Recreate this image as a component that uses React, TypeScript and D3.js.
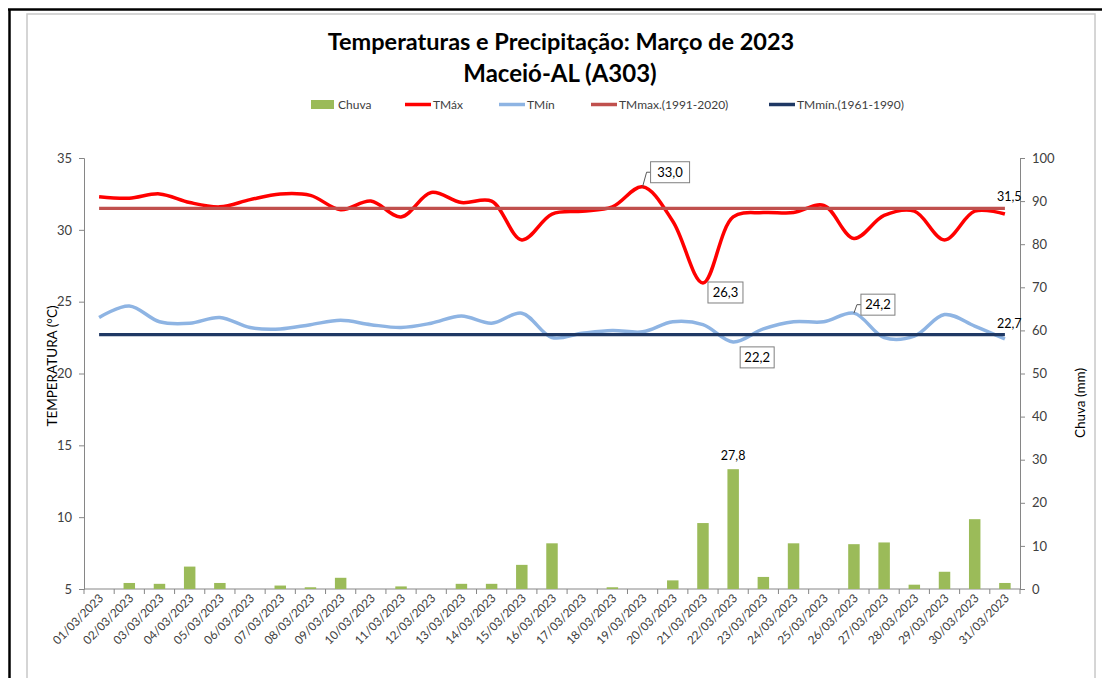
import { useEffect, useRef } from "react";
import * as d3 from "d3";

const dias = [
  "01/03/2023", "02/03/2023", "03/03/2023", "04/03/2023", "05/03/2023", "06/03/2023",
  "07/03/2023", "08/03/2023", "09/03/2023", "10/03/2023", "11/03/2023", "12/03/2023",
  "13/03/2023", "14/03/2023", "15/03/2023", "16/03/2023", "17/03/2023", "18/03/2023",
  "19/03/2023", "20/03/2023", "21/03/2023", "22/03/2023", "23/03/2023", "24/03/2023",
  "25/03/2023", "26/03/2023", "27/03/2023", "28/03/2023", "29/03/2023", "30/03/2023",
  "31/03/2023",
];

const chuva = [
  0, 1.4, 1.2, 5.2, 1.4, 0, 0.8, 0.4, 2.6, 0, 0.6, 0, 1.2, 1.2, 5.6, 10.6,
  0, 0.4, 0, 2.0, 15.3, 27.8, 2.8, 10.6, 0, 10.4, 10.8, 1.0, 4.0, 16.2, 1.4,
];

const tMax = [
  32.3, 32.2, 32.5, 31.9, 31.6, 32.1, 32.5, 32.4, 31.4, 32.0, 30.9, 32.6, 31.9, 32.0, 29.3, 31.1,
  31.3, 31.6, 33.0, 30.6, 26.3, 30.9, 31.2, 31.2, 31.7, 29.4, 31.0, 31.3, 29.3, 31.3, 31.1,
];

const tMin = [
  23.9, 24.7, 23.6, 23.5, 23.9, 23.2, 23.1, 23.4, 23.7, 23.4, 23.2, 23.5, 24.0, 23.5, 24.2, 22.5,
  22.8, 23.0, 22.9, 23.6, 23.4, 22.2, 23.1, 23.6, 23.6, 24.2, 22.5, 22.6, 24.1, 23.3, 22.4,
];

const normalMax = 31.5; // 1991-2020
const normalMin = 22.7; // 1961-1990

const ticksTemp = [5, 10, 15, 20, 25, 30, 35];
const ticksChuva = [0, 10, 20, 30, 40, 50, 60, 70, 80, 90, 100];

// rótulos com caixa: [índice do dia, série, dx, dy, largura da caixa]
const rotulos: [number, "max" | "min", number, number, number][] = [
  [18, "max", 8, -25, 39],
  [20, "max", 5, -1, 35],
  [21, "min", 7, 5, 34],
  [25, "min", 7, -19, 34],
];

const FONT = "Lato, 'Open Sans', sans-serif";
const fmt = (v: number) => v.toFixed(1).replace(".", ",");

export default function App() {
  const ref = useRef<SVGSVGElement>(null);

  useEffect(() => {
    if (!ref.current) return;
    const svg = d3.select(ref.current);
    svg.selectAll("*").remove();

    const W = 1102, H = 678;
    const plot = { left: 84, right: 1020, top: 158, bottom: 589 };

    // molduras
    svg.append("rect").attr("width", W).attr("height", H).attr("fill", "#fff");
    svg.append("rect")
      .attr("x", 27).attr("y", 14).attr("width", 1068).attr("height", 700)
      .attr("fill", "none").attr("stroke", "#c8c8c8").attr("stroke-width", 1.5);
    svg.append("line").attr("x1", 8).attr("x2", 1102).attr("y1", 9.5).attr("y2", 9.5)
      .attr("stroke", "#000").attr("stroke-width", 2.5);
    svg.append("line").attr("x1", 9.5).attr("x2", 9.5).attr("y1", 9).attr("y2", H)
      .attr("stroke", "#000").attr("stroke-width", 2.5);

    // títulos
    svg.append("text").attr("x", 561).attr("y", 50).attr("text-anchor", "middle")
      .attr("font-family", FONT).attr("font-weight", "bold").attr("font-size", 23.5)
      .attr("fill", "#000").text("Temperaturas e Precipitação: Março de 2023");
    svg.append("text").attr("x", 560).attr("y", 82).attr("text-anchor", "middle")
      .attr("font-family", FONT).attr("font-weight", "bold").attr("font-size", 24)
      .attr("fill", "#000").text("Maceió-AL (A303)");

    const x = d3.scaleBand<string>().domain(dias).range([plot.left, plot.right])
      .paddingInner(0.62).paddingOuter(0.31);
    const cx = (i: number) => (x(dias[i]) as number) + x.bandwidth() / 2;
    const yT = d3.scaleLinear().domain([5, 35]).range([plot.bottom, plot.top]);
    const yC = d3.scaleLinear().domain([0, 100]).range([plot.bottom, plot.top]);

    // eixo esquerdo
    const axL = svg.append("g").attr("transform", `translate(${plot.left},0)`)
      .call(d3.axisLeft(yT).tickValues(ticksTemp).tickSize(5).tickPadding(7));
    // eixo direito
    const axR = svg.append("g").attr("transform", `translate(${plot.right},0)`)
      .call(d3.axisRight(yC).tickValues(ticksChuva).tickSize(5).tickPadding(7));
    [axL, axR].forEach((g) => {
      g.select(".domain").attr("stroke", "#868686");
      g.selectAll(".tick line").attr("stroke", "#868686");
      g.selectAll(".tick text").attr("font-family", FONT).attr("font-size", 13).attr("fill", "#404040");
    });

    // eixo x
    svg.append("line").attr("x1", plot.left).attr("x2", plot.right)
      .attr("y1", plot.bottom).attr("y2", plot.bottom).attr("stroke", "#868686");
    const step = x.step();
    svg.selectAll(".xtick").data(d3.range(dias.length + 1)).enter().append("line")
      .attr("x1", (i) => plot.left + i * step).attr("x2", (i) => plot.left + i * step)
      .attr("y1", plot.bottom).attr("y2", plot.bottom + 5).attr("stroke", "#868686");
    svg.selectAll(".xlab").data(dias).enter().append("text")
      .attr("transform", (d, i) => `translate(${cx(i) + 5},${plot.bottom + 10}) rotate(-45)`)
      .attr("text-anchor", "end").attr("font-family", FONT).attr("font-size", 11.8)
      .attr("fill", "#404040").text((d) => d);

    // títulos dos eixos
    svg.append("text").attr("transform", "translate(57,366) rotate(-90)")
      .attr("text-anchor", "middle").attr("font-family", FONT).attr("font-size", 13.5)
      .attr("fill", "#000").text("TEMPERATURA (°C)");
    svg.append("text").attr("transform", "translate(1085,403) rotate(-90)")
      .attr("text-anchor", "middle").attr("font-family", FONT).attr("font-size", 13.5)
      .attr("fill", "#000").text("Chuva (mm)");

    // barras de chuva
    svg.selectAll(".bar").data(chuva).enter().append("rect")
      .attr("x", (d, i) => x(dias[i]) as number).attr("width", x.bandwidth())
      .attr("y", (d) => yC(d)).attr("height", (d) => plot.bottom - yC(d))
      .attr("fill", "#9bbb59");
    const iMaxChuva = d3.maxIndex(chuva);
    svg.append("text").attr("x", cx(iMaxChuva)).attr("y", yC(chuva[iMaxChuva]) - 9)
      .attr("text-anchor", "middle").attr("font-family", FONT).attr("font-size", 12.5)
      .attr("fill", "#000").text(fmt(chuva[iMaxChuva]));

    // linhas suavizadas
    const linha = d3.line<number>().x((d, i) => cx(i)).y((d) => yT(d))
      .curve(d3.curveCatmullRom.alpha(0.5));
    svg.append("path").datum(tMax).attr("d", linha).attr("fill", "none")
      .attr("stroke", "#ff0000").attr("stroke-width", 3.5);
    svg.append("path").datum(tMin).attr("d", linha).attr("fill", "none")
      .attr("stroke", "#8eb4e3").attr("stroke-width", 3.5);

    // normais
    const normais: [number, string][] = [[normalMax, "#c0504d"], [normalMin, "#1f3864"]];
    normais.forEach(([v, cor]) => {
      svg.append("line").attr("x1", cx(0)).attr("x2", cx(dias.length - 1))
        .attr("y1", yT(v)).attr("y2", yT(v)).attr("stroke", cor).attr("stroke-width", 3.2);
      svg.append("text").attr("x", cx(dias.length - 1) - 8).attr("y", yT(v) - 7)
        .attr("font-family", FONT).attr("font-size", 12.5).attr("fill", "#000").text(fmt(v));
    });

    // rótulos com caixa
    rotulos.forEach(([i, serie, dx, dy, bw]) => {
      const v = serie === "max" ? tMax[i] : tMin[i];
      const px = cx(i), py = yT(v);
      const bx = px + dx, by = py + dy, bh = 21;
      if (Math.abs(dy) > 6) {
        const my = by + bh / 2;
        svg.append("polyline")
          .attr("points", `${px},${py} ${bx - 4},${my} ${bx},${my}`)
          .attr("fill", "none").attr("stroke", "#595959").attr("stroke-width", 1);
      }
      svg.append("rect").attr("x", bx).attr("y", by).attr("width", bw).attr("height", bh)
        .attr("fill", "#fff").attr("stroke", "#7f7f7f").attr("stroke-width", 1);
      svg.append("text").attr("x", bx + bw / 2).attr("y", by + bh / 2 + 4.5)
        .attr("text-anchor", "middle").attr("font-family", FONT).attr("font-size", 13)
        .attr("fill", "#000").text(fmt(v));
    });

    // legenda
    const leg = svg.append("g").attr("font-family", FONT).attr("font-size", 12).attr("fill", "#404040");
    const itens: [string, string, boolean, number][] = [
      ["Chuva", "#9bbb59", true, 311],
      ["TMáx", "#ff0000", false, 405],
      ["TMín", "#8eb4e3", false, 499],
      ["TMmax.(1991-2020)", "#c0504d", false, 591],
      ["TMmín.(1961-1990)", "#1f3864", false, 769],
    ];
    itens.forEach(([nome, cor, barra, lx]) => {
      if (barra) {
        leg.append("rect").attr("x", lx).attr("y", 100).attr("width", 23).attr("height", 9).attr("fill", cor);
      } else {
        leg.append("line").attr("x1", lx).attr("x2", lx + 26).attr("y1", 104.5).attr("y2", 104.5)
          .attr("stroke", cor).attr("stroke-width", 3.5);
      }
      leg.append("text").attr("x", lx + (barra ? 27 : 28)).attr("y", 109).text(nome);
    });
  }, []);

  return (
    <svg
      ref={ref}
      width={1102}
      height={678}
      style={{ position: "absolute", left: 0, top: 0, display: "block" }}
    />
  );
}
